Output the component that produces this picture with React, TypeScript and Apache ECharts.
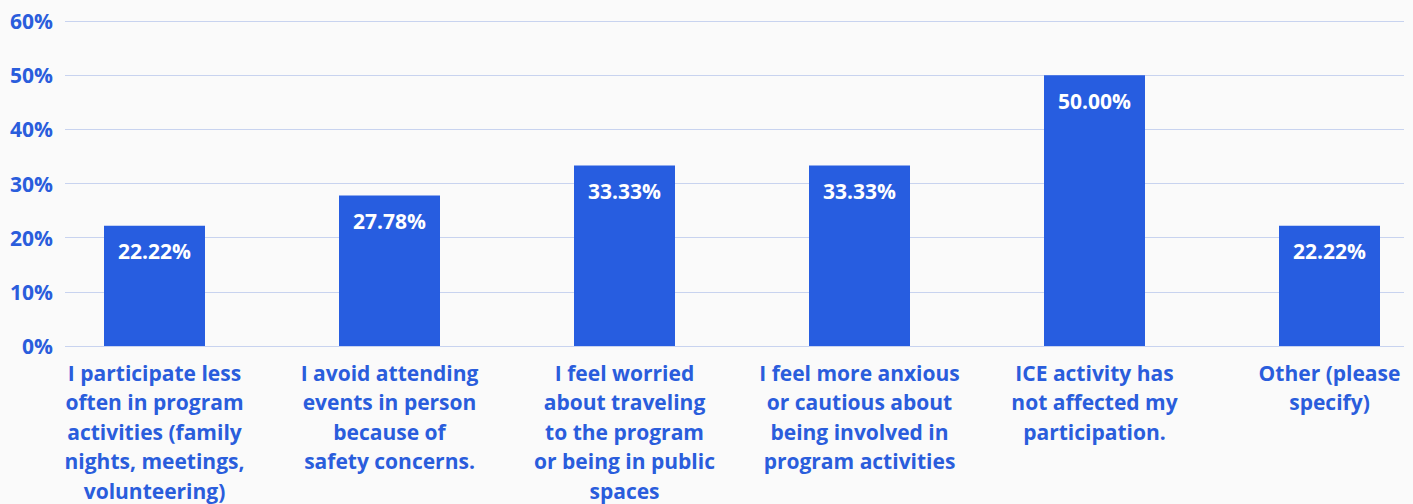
import React, { useEffect, useRef } from "react";
import * as echarts from "echarts";

const categories = [
  "I participate less\noften in program\nactivities (family\nnights, meetings,\nvolunteering)",
  "I avoid attending\nevents in person\nbecause of\nsafety concerns.",
  "I feel worried\nabout traveling\nto the program\nor being in public\nspaces",
  "I feel more anxious\nor cautious about\nbeing involved in\nprogram activities",
  "ICE activity has\nnot affected my\nparticipation.",
  "Other (please\nspecify)",
];
const values = [22.22, 27.78, 33.33, 33.33, 50.0, 22.22];
const yTicks = [0, 10, 20, 30, 40, 50, 60];

const BLUE = "#2a5ddc";
const BAR = "#275de0";
const FONT = "'Open Sans', sans-serif";

export default function App() {
  const ref = useRef<HTMLDivElement>(null);
  useEffect(() => {
    if (!ref.current) return;
    const chart = echarts.init(ref.current, null, { renderer: "svg" });
    const yMax = yTicks[yTicks.length - 1];
    chart.setOption({
      animation: false,
      backgroundColor: "#fafafa",
      grid: [
        { left: 65, right: 9, top: 21, bottom: 158, outerBoundsMode: "none", containLabel: false },
        { left: 37, width: 1410, top: 21, bottom: 158, outerBoundsMode: "none", containLabel: false },
      ],
      xAxis: [
        { type: "category", gridIndex: 0, data: categories, show: false },
        {
          type: "category",
          gridIndex: 1,
          data: categories,
          axisLine: { show: false },
          axisTick: { show: false },
          axisLabel: {
            interval: 0,
            color: BLUE,
            fontFamily: FONT,
            fontWeight: "bold",
            fontSize: 21,
            lineHeight: 29.5,
            margin: 12,
          },
        },
      ],
      yAxis: [
        {
          type: "value",
          gridIndex: 0,
          min: 0,
          max: yMax,
          interval: 10,
          axisLine: { show: false },
          axisTick: { show: false },
          splitLine: { lineStyle: { color: "#c8d3ef", width: 1 } },
          axisLabel: {
            formatter: "{value}%",
            color: BLUE,
            fontFamily: FONT,
            fontWeight: "bold",
            fontSize: 21,
            margin: 12,
          },
        },
        {
          type: "value",
          gridIndex: 1,
          min: 0,
          max: yMax,
          interval: 10,
          show: false,
        },
      ],
      series: [
        {
          type: "bar",
          xAxisIndex: 1,
          yAxisIndex: 1,
          data: values,
          barWidth: 101,
          itemStyle: { color: BAR },
          label: {
            show: true,
            position: "insideTop",
            distance: 15,
            color: "#ffffff",
            fontFamily: FONT,
            fontWeight: "bold",
            fontSize: 21,
            formatter: (p: any) => p.value.toFixed(2) + "%",
          },
        },
      ],
    });
    return () => chart.dispose();
  }, []);
  return (
    <div
      ref={ref}
      style={{ position: "fixed", left: 0, top: 0, width: 1413, height: 504 }}
    />
  );
}
